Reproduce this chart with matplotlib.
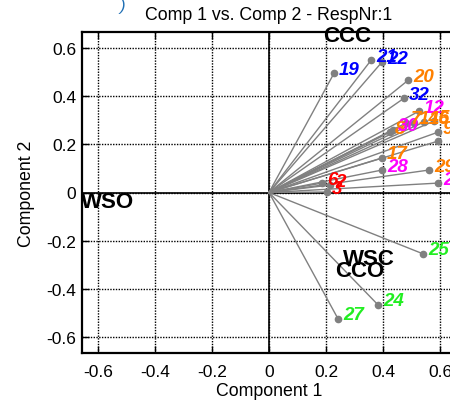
import matplotlib
matplotlib.use("Agg")
import matplotlib.pyplot as plt

plt.rcParams['font.family'] = ['Liberation Sans', 'DejaVu Sans']

# data
labels = ['19', '21', '22', '20', '32', '12', '8', '30', '7', '14', '16', '5',
          '9', '', '17', '28', '29', '23', '6', '2', '3', '25', '24', '27']
xs = [0.228, 0.358, 0.396, 0.488, 0.474, 0.526, 0.425, 0.435, 0.481, 0.509, 0.544, 0.579,
      0.593, 0.593, 0.396, 0.396, 0.561, 0.593, 0.186, 0.214, 0.204, 0.540, 0.382, 0.242]
ys = [0.494, 0.548, 0.540, 0.465, 0.391, 0.337, 0.250, 0.259, 0.288, 0.288, 0.292, 0.296,
      0.250, 0.213, 0.143, 0.093, 0.093, 0.039, 0.039, 0.031, 0.002, -0.254, -0.465, -0.523]
groups = ['b', 'b', 'b', 'o', 'b', 'm', 'o', 'm', 'o', 'o', 'o', 'o',
          'o', 'o', 'o', 'm', 'o', 'm', 'r', 'r', 'r', 'g', 'g', 'g']
group_colors = {'b': '#0000FF', 'o': '#FF8000', 'm': '#FF00FF', 'r': '#FF0000', 'g': '#22EE22'}

var_names = ['CCC', 'WSO', 'WSC', 'CCO']
var_x = [0.274, -0.660, 0.351, 0.319]
var_y = [0.650, -0.039, -0.275, -0.325]
var_ha = ['center', 'left', 'center', 'center']

xticks = [-0.6, -0.4, -0.2, 0, 0.2, 0.4, 0.6]
yticks = [-0.6, -0.4, -0.2, 0, 0.2, 0.4, 0.6]

fig = plt.figure(figsize=(4.5, 4.02), dpi=100)
ax = fig.add_axes([82/450, 48/402, (456-82)/450, (354-33)/402])

ax.set_xlim(-0.656, 0.656)
ax.set_ylim(-0.665, 0.665)

ax.set_xticks(xticks)
ax.set_yticks(yticks)
ax.set_xticklabels(['-0.6', '-0.4', '-0.2', '0', '0.2', '0.4', '0.6'])
ax.set_yticklabels(['-0.6', '-0.4', '-0.2', '0', '0.2', '0.4', '0.6'])
ax.grid(True, color='black', linestyle=(0, (1, 1)), linewidth=1.0)
ax.set_axisbelow(True)
ax.tick_params(direction='in', top=True, right=True, length=5, width=1,
               labelsize=12.5, pad=4)
ax.tick_params(axis='x', pad=8)
for s in ax.spines.values():
    s.set_linewidth(1.6)

ax.axhline(0, color='black', linewidth=1.2, zorder=1.5)
ax.axvline(0, color='black', linewidth=1.2, zorder=1.5)

for x, y, lab, g in zip(xs, ys, labels, groups):
    ax.plot([0, x], [0, y], color='#808080', linewidth=1.0, zorder=2)
    ax.plot([x], [y], 'o', color='#808080', markersize=4.5, zorder=3)
    if lab:
        ax.annotate(lab, (x, y), xytext=(5, 4), textcoords='offset pixels',
                    ha='left', va='center', color=group_colors[g],
                    fontsize=13.5, fontweight='bold', fontstyle='italic', zorder=4)

for n, x, y, ha in zip(var_names, var_x, var_y, var_ha):
    ax.text(x, y, n, ha=ha, va='center', fontsize=16, fontweight='bold',
            color='black', zorder=5, clip_on=False)

ax.set_title('Comp 1 vs. Comp 2 - RespNr:1', fontsize=12.8, pad=9)
ax.set_xlabel('Component 1', fontsize=12.8, labelpad=2)
ax.set_ylabel('Component 2', fontsize=12.8, labelpad=8)

fig.text(122/450, 1 - 6/402, ')', color='#1f6fb4', fontsize=12, fontstyle='italic',
         ha='center', va='center')

fig.savefig('out.png', dpi=100)
